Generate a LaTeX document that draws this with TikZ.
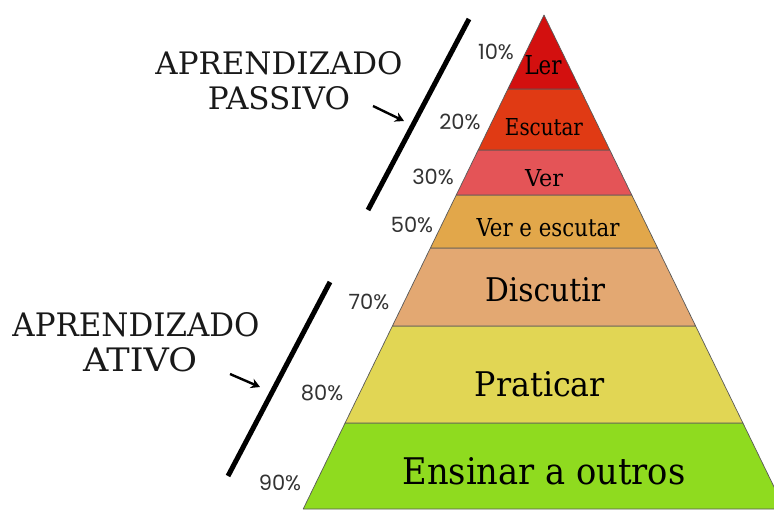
\documentclass[tikz,border=0pt]{standalone}
\usepackage{graphicx}
\usepackage{fontspec}
\setmainfont{DejaVu Serif}
\newfontfamily\pctfont{Poppins}
\usetikzlibrary{arrows.meta}
\definecolor{cLer}{HTML}{D3100F}
\definecolor{cEsc}{HTML}{E03A14}
\definecolor{cVer}{HTML}{E45457}
\definecolor{cVeE}{HTML}{E2A74A}
\definecolor{cDis}{HTML}{E3A872}
\definecolor{cPra}{HTML}{E1D654}
\definecolor{cEns}{HTML}{8FDB1F}
\begin{document}
\begin{tikzpicture}[x=1pt,y=-1pt,
  band/.style={draw=black!65, line width=0.7pt, line join=round},
  lbl/.style={inner sep=0pt, text=black},
  title/.style={inner sep=0pt, text=black!90},
  pct/.style={inner sep=0pt, font=\pctfont\fontsize{21}{21}\selectfont, text=black!80},
  bar/.style={line width=5pt, black},
  pointer/.style={line width=2.4pt, black, -{Stealth[length=9pt,width=10pt]}}]
\useasboundingbox (0,0) rectangle (774,509);
\fill[white] (0,0) rectangle (774,509);
\begin{scope}
\clip (0,0) rectangle (774,509);
% pyramid bands
\filldraw[band, fill=cEns] (345.1,423) -- (742.9,423) -- (784.8,509) -- (303.2,509) -- cycle;
\filldraw[band, fill=cPra] (392.4,326) -- (695.6,326) -- (742.9,423) -- (345.1,423) -- cycle;
\filldraw[band, fill=cDis] (430.4,248) -- (657.6,248) -- (695.6,326) -- (392.4,326) -- cycle;
\filldraw[band, fill=cVeE] (456.25,195) -- (631.75,195) -- (657.6,248) -- (430.4,248) -- cycle;
\filldraw[band, fill=cVer] (478.2,150) -- (609.8,150) -- (631.75,195) -- (456.25,195) -- cycle;
\filldraw[band, fill=cEsc] (507.9,89) -- (580.1,89) -- (609.8,150) -- (478.2,150) -- cycle;
\filldraw[band, fill=cLer] (544,15) -- (580.1,89) -- (507.9,89) -- cycle;
\end{scope}
% band labels
\node[lbl] (ler) at (543,65) {\resizebox{37pt}{19pt}{Ler}};
\node[lbl] (esc) at (544,127) {\resizebox{78pt}{17pt}{Escutar}};
\node[lbl] (ver) at (544,178) {\resizebox{38pt}{17pt}{Ver}};
\node[lbl] (vee) at (548,228) {\resizebox{143pt}{18pt}{Ver e escutar}};
\node[lbl] (dis) at (545,290) {\resizebox{120pt}{24pt}{Discutir}};
\node[lbl] (pra) at (540,384) {\resizebox{130pt}{25pt}{Praticar}};
\node[lbl] (ens) at (544,471) {\resizebox{283pt}{27pt}{Ensinar a outros}};
% percentages
\node[pct] (p10) at (496,52) {10\%};
\node[pct] (p20) at (460,122) {20\%};
\node[pct] (p30) at (433,177) {30\%};
\node[pct] (p50) at (412,225) {50\%};
\node[pct] (p70) at (369,302) {70\%};
\node[pct] (p80) at (322,393) {80\%};
\node[pct] (p90) at (280,483) {90\%};
% group bars
\coordinate (passTop) at (469,19);
\coordinate (passBot) at (368,210);
\coordinate (actTop) at (330,282);
\coordinate (actBot) at (228,476);
\draw[bar] (passTop) -- (passBot);
\draw[bar] (actTop) -- (actBot);
% titles
\node[title] (passA) at (279,63) {\resizebox{247pt}{23pt}{APRENDIZADO}};
\node[title] (passB) at (279,98) {\resizebox{142pt}{23pt}{PASSIVO}};
\node[title] (actA) at (136,325) {\resizebox{247pt}{24pt}{APRENDIZADO}};
\node[title] (actB) at (140,360) {\resizebox{114pt}{24pt}{ATIVO}};
% pointers
\coordinate (passFrom) at (373,106);
\coordinate (passTo) at (404,121);
\coordinate (actFrom) at (230,374);
\coordinate (actTo) at (260,387);
\draw[pointer] (passFrom) -- (passTo);
\draw[pointer] (actFrom) -- (actTo);
\end{tikzpicture}
\end{document}
